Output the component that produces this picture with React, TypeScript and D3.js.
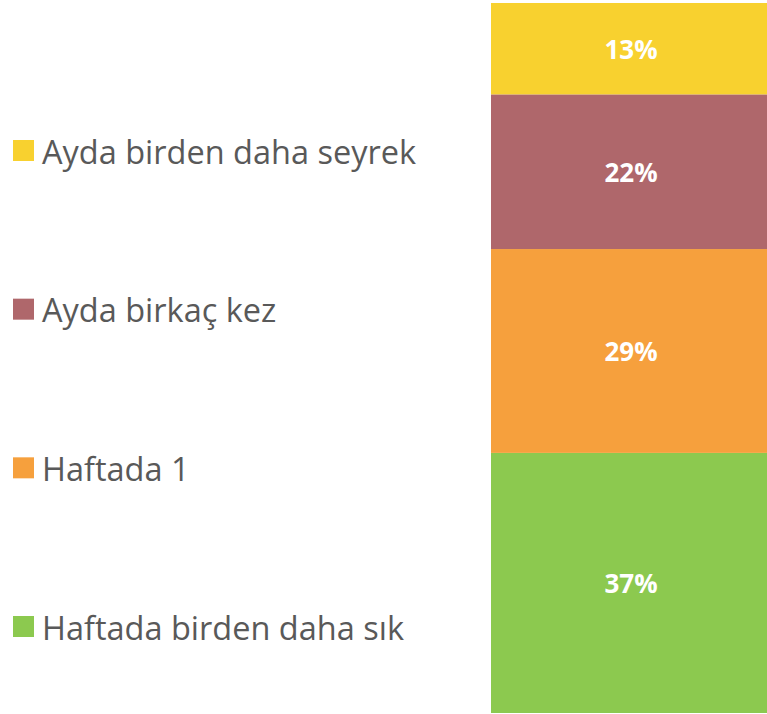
import React from "react";
import * as d3 from "d3";

const categories = ["Haftada birden daha sık", "Haftada 1", "Ayda birkaç kez", "Ayda birden daha seyrek"];
const values = [37, 29, 22, 13];
const colors = ["#8CC94F", "#F6A03D", "#AF676B", "#F8D12F"];
const legendOrder = [3, 2, 1, 0];

const W = 767, H = 714;

export default function App() {
  const total = d3.sum(values);
  const y = d3.scaleLinear().domain([0, total]).range([713, 3]);
  const x0 = 491, x1 = 770;
  const cum = d3.cumsum(values);
  const segs = values.map((v, i) => ({ v, i, lo: cum[i] - v, hi: cum[i] }));
  const legendY = d3.scalePoint<number>().domain(legendOrder).range([150, 626]);
  return (
    <svg width={W} height={H} style={{ position: "absolute", left: 0, top: 0 }}>
      {segs.map(s => (
        <g key={s.i}>
          <rect x={x0} y={y(s.hi)} width={x1 - x0} height={y(s.lo) - y(s.hi)} fill={colors[s.i]} />
          <text x={631} y={(y(s.hi) + y(s.lo)) / 2} textAnchor="middle" dominantBaseline="central"
            fill="#fff" fontFamily="'Open Sans', sans-serif" fontWeight="bold" fontSize={26}>{s.v}%</text>
        </g>
      ))}
      {legendOrder.map(i => (
        <g key={i} transform={`translate(0,${legendY(i)})`}>
          <rect x={13} y={-10} width={21} height={21} fill={colors[i]} />
          <text x={42} y={1} dominantBaseline="central" fill="#595959"
            fontFamily="'Open Sans', sans-serif" fontSize={32.5}>{categories[i]}</text>
        </g>
      ))}
    </svg>
  );
}
